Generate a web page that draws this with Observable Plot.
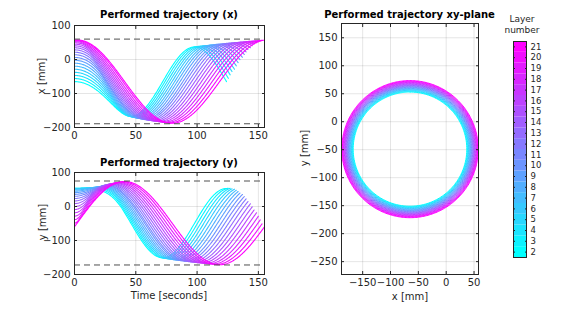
<!DOCTYPE html>
<html><head><meta charset="utf-8">
<script src="https://cdn.jsdelivr.net/npm/d3@7"></script>
<script src="https://cdn.jsdelivr.net/npm/@observablehq/plot@0.6"></script>
<style>
body{margin:0;background:#fff;font-family:"DejaVu Sans",sans-serif;}
#wrap{position:relative;width:571px;height:309px;overflow:hidden;background:#fff;}
.lbl{position:absolute;white-space:nowrap;font-size:10px;color:#262626;transform:translate(-50%,-50%);line-height:1;}
.ttl{font-weight:bold;color:#000;}
.rot{transform:translate(-50%,-50%) rotate(-90deg);}
</style></head><body><div id="wrap"></div>
<script>
// ---- data ----
const layers = [2,3,4,5,6,7,8,9,10,11,12,13,14,15,16,17,18,19,20,21];
const radii = [102.0,103.1,104.2,105.2,106.3,107.4,108.5,109.6,110.6,111.7,112.8,113.9,114.9,116.0,117.1,118.2,119.3,120.3,121.4,122.5]; // mm
const startAngles = [90,85,80,75,70,65,60,55,50,45,40,35,30,25,20,15,10,5,0,-5]; // degrees, where each layer starts
const rampTimes = [40,38,36,34,32,30,28,26,24,21,19,17,15,13,11,9,7,5,3,0]; // seconds of slow start (acceleration)
const durations = [124.0,125.6,127.3,128.9,130.5,132.2,133.8,135.4,137.1,138.7,140.3,141.9,143.6,145.2,146.8,148.5,150.1,151.7,153.4,155.0]; // seconds per layer
const centerX = -65, centerY = -49;
const xBounds = [60, -189];
const yBounds = [75, -172];
const timeTicks = [0,50,100,150];
const posTicks = [-200,-100,0,100];
const planeXTicks = [-150,-100,-50,0,50];
const planeYTicks = [-250,-200,-150,-100,-50,0,50,100,150];

// trajectory table built from the per-layer values
const rows = [];
layers.forEach((layer,i)=>{
  const T = durations[i], r = radii[i], a0 = startAngles[i], tau = rampTimes[i];
  const w = 360 / (T - tau/2);
  for (let t=0; t<=T+1e-9; t+=0.5) {
    const prog = tau > 0 && t < tau ? t*t/(2*tau) : t - tau/2;
    const a = (a0 + w*prog)*Math.PI/180;
    rows.push({layer, t, x: centerX + r*Math.cos(a), y: centerY + r*Math.sin(a)});
  }
});

const colorScale = {type:"linear", domain:[2,21], range:["#00ffff","#ff00ff"], interpolate:"rgb"};
const style = {fontFamily:"DejaVu Sans", fontSize:"10px", color:"#262626", background:"transparent", overflow:"visible"};
const gridStyle = {stroke:"#000", strokeOpacity:0.1};
const wrap = document.getElementById("wrap");
function place(svg, left, top){ svg.style.position="absolute"; svg.style.left=left+"px"; svg.style.top=top+"px"; wrap.appendChild(svg); }

function timePlot(key, bounds){
  return Plot.plot({
    width:280, height:150, marginLeft:74, marginRight:16, marginTop:25, marginBottom:23,
    style, color: colorScale,
    x:{domain:[0,155], label:null}, y:{domain:[-200,100], label:null},
    marks:[
      Plot.gridX(timeTicks, gridStyle),
      Plot.gridY(posTicks, gridStyle),
      Plot.line(rows, {x:"t", y:key, z:"layer", stroke:"layer", strokeWidth:1.1}),
      Plot.ruleY(bounds, {stroke:"#505050", strokeDasharray:"6,4", strokeWidth:1}),
      Plot.frame({stroke:"#262626"}),
      Plot.axisX(timeTicks, {tickSize:-3, tickPadding:7, fontSize:10}),
      Plot.axisY(posTicks, {tickSize:-3, tickPadding:7, fontSize:10}),
      Plot.axisX(timeTicks, {anchor:"top", tickSize:-3, tickFormat:()=>""}),
      Plot.axisY(posTicks, {anchor:"right", tickSize:-3, tickFormat:()=>""})
    ]
  });
}
place(timePlot("x", xBounds), 0, 0);
place(timePlot("y", yBounds), 0, 147);

const plane = Plot.plot({
  width:220, height:309, marginLeft:51, marginRight:32, marginTop:23, marginBottom:35,
  style, color: colorScale,
  x:{domain:[-188,58], label:null}, y:{domain:[-273,175.5], label:null},
  marks:[
    Plot.gridX(planeXTicks, gridStyle),
    Plot.gridY(planeYTicks, gridStyle),
    Plot.line(rows, {x:"x", y:"y", z:"layer", stroke:"layer", strokeWidth:1}),
    Plot.frame({stroke:"#262626"}),
    Plot.axisX(planeXTicks, {tickSize:-3, tickPadding:7, fontSize:10}),
    Plot.axisY(planeYTicks, {tickSize:-3, tickPadding:7, fontSize:10}),
    Plot.axisX(planeXTicks, {anchor:"top", tickSize:-3, tickFormat:()=>""}),
    Plot.axisY(planeYTicks, {anchor:"right", tickSize:-3, tickFormat:()=>""})
  ]
});
place(plane, 290, 0);

const cbar = Plot.plot({
  width:60, height:309, marginLeft:13, marginRight:34, marginTop:41, marginBottom:52,
  style, color: colorScale,
  x:{axis:null},
  y:{domain:[1.5,21.5], label:null, axis:null},
  marks:[
    Plot.rect(layers, {y1:d=>d-0.5, y2:d=>d+0.5, fill:d=>d}),
    Plot.frame({stroke:"#262626"}),
    Plot.axisY(layers, {anchor:"right", tickSize:-2, tickPadding:6, fontSize:8.5}),
    Plot.axisY(layers, {anchor:"left", tickSize:-2, tickFormat:()=>""})
  ]
});
place(cbar, 500, 0);

// text labels
function label(text, x, y, cls){
  const d = document.createElement("div");
  d.className = "lbl" + (cls ? " " + cls : "");
  d.textContent = text; d.style.left = x+"px"; d.style.top = y+"px";
  wrap.appendChild(d); return d;
}
label("Performed trajectory (x)", 169, 15, "ttl");
label("Performed trajectory (y)", 169, 162.5, "ttl");
label("Performed trajectory xy-plane", 409.5, 15, "ttl");
label("x [mm]", 42, 76, "rot");
label("y [mm]", 42.5, 222, "rot");
label("Time [seconds]", 169, 296);
label("x [mm]", 410, 297);
label("y [mm]", 305, 148, "rot");
const l1 = label("Layer", 522, 19); l1.style.fontSize="9px";
const l2 = label("number", 522, 30); l2.style.fontSize="9px";
</script></body></html>
